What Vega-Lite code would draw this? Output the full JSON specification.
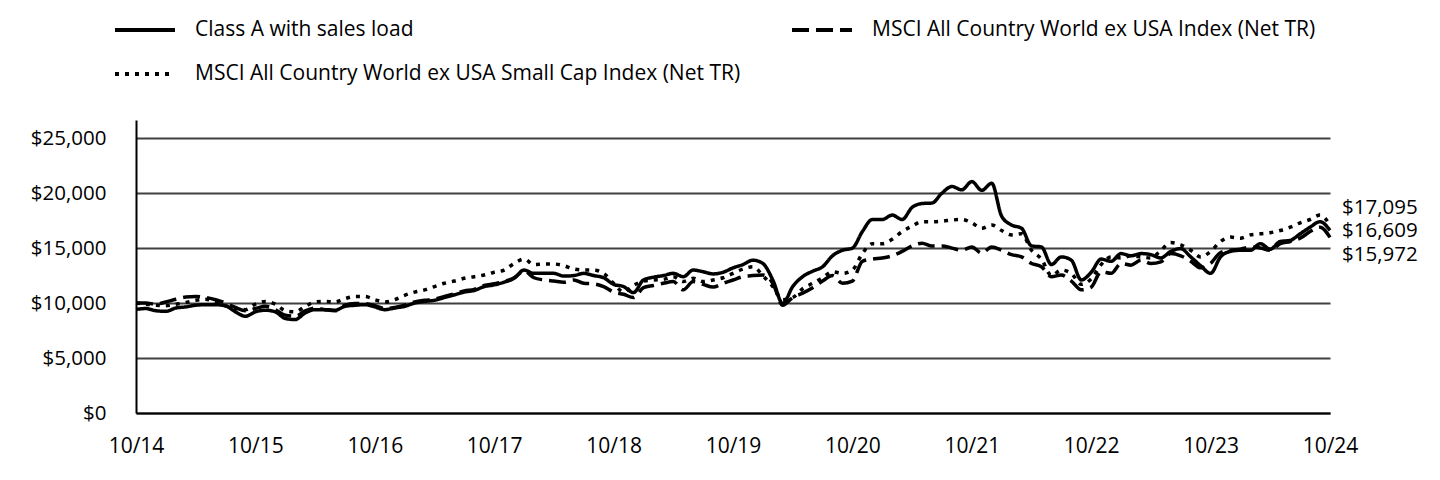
{
  "$schema": "https://vega.github.io/schema/vega-lite/v6.json",
  "width": 1194,
  "height": 293,
  "autosize": {"type": "none"},
  "padding": {"left": 136, "top": 120, "right": 110, "bottom": 67},
  "background": "white",
  "config": {"view": {"stroke": null}, "font": "Open Sans"},
  "data": {"values": [
    {"m":0,"A":9425,"B":10000,"C":10000},
    {"m":1,"A":9500,"B":10000,"C":9900},
    {"m":2,"A":9300,"B":9900,"C":9800},
    {"m":3,"A":9250,"B":10100,"C":9750},
    {"m":4,"A":9550,"B":10350,"C":9900},
    {"m":5,"A":9650,"B":10550,"C":10050},
    {"m":6,"A":9800,"B":10600,"C":10250},
    {"m":7,"A":9850,"B":10500,"C":10350},
    {"m":8,"A":9850,"B":10300,"C":10100},
    {"m":9,"A":9750,"B":10000,"C":9750},
    {"m":10,"A":9200,"B":9600,"C":9500},
    {"m":11,"A":8800,"B":9300,"C":9400},
    {"m":12,"A":9200,"B":9500,"C":9900},
    {"m":13,"A":9350,"B":9700,"C":10150},
    {"m":14,"A":9200,"B":9400,"C":9900},
    {"m":15,"A":8600,"B":8900,"C":9300},
    {"m":16,"A":8500,"B":8800,"C":9200},
    {"m":17,"A":9100,"B":9300,"C":9700},
    {"m":18,"A":9400,"B":9550,"C":10100},
    {"m":19,"A":9400,"B":9400,"C":10150},
    {"m":20,"A":9350,"B":9300,"C":10100},
    {"m":21,"A":9700,"B":9800,"C":10400},
    {"m":22,"A":9800,"B":9950,"C":10600},
    {"m":23,"A":9850,"B":9950,"C":10600},
    {"m":24,"A":9650,"B":9750,"C":10300},
    {"m":25,"A":9400,"B":9500,"C":10100},
    {"m":26,"A":9550,"B":9600,"C":10300},
    {"m":27,"A":9700,"B":9800,"C":10700},
    {"m":28,"A":10000,"B":10100,"C":11000},
    {"m":29,"A":10150,"B":10250,"C":11200},
    {"m":30,"A":10250,"B":10350,"C":11500},
    {"m":31,"A":10500,"B":10600,"C":11800},
    {"m":32,"A":10750,"B":10850,"C":12000},
    {"m":33,"A":11000,"B":11100,"C":12250},
    {"m":34,"A":11150,"B":11250,"C":12400},
    {"m":35,"A":11500,"B":11600,"C":12550},
    {"m":36,"A":11650,"B":11750,"C":12800},
    {"m":37,"A":11900,"B":11950,"C":13000},
    {"m":38,"A":12250,"B":12300,"C":13600},
    {"m":39,"A":13000,"B":12900,"C":14000},
    {"m":40,"A":12700,"B":12300,"C":13500},
    {"m":41,"A":12700,"B":12100,"C":13550},
    {"m":42,"A":12700,"B":12000,"C":13550},
    {"m":43,"A":12450,"B":11900,"C":13400},
    {"m":44,"A":12500,"B":12100,"C":13100},
    {"m":45,"A":12700,"B":11800,"C":13000},
    {"m":46,"A":12500,"B":11750,"C":13000},
    {"m":47,"A":12300,"B":11500,"C":12700},
    {"m":48,"A":11700,"B":11000,"C":11800},
    {"m":49,"A":11500,"B":10800,"C":11000},
    {"m":50,"A":10950,"B":10500,"C":11600},
    {"m":51,"A":12100,"B":11400,"C":12000},
    {"m":52,"A":12350,"B":11600,"C":12100},
    {"m":53,"A":12500,"B":11800,"C":12150},
    {"m":54,"A":12700,"B":11950,"C":12400},
    {"m":55,"A":12400,"B":11200,"C":11950},
    {"m":56,"A":13000,"B":11950,"C":12250},
    {"m":57,"A":12850,"B":11700,"C":11950},
    {"m":58,"A":12650,"B":11450,"C":12100},
    {"m":59,"A":12800,"B":11800,"C":12300},
    {"m":60,"A":13200,"B":12100,"C":12700},
    {"m":61,"A":13500,"B":12400,"C":13100},
    {"m":62,"A":13900,"B":12500,"C":13300},
    {"m":63,"A":13600,"B":12550,"C":12500},
    {"m":64,"A":12100,"B":11800,"C":11500},
    {"m":65,"A":9950,"B":9800,"C":10300},
    {"m":66,"A":11500,"B":10500,"C":10500},
    {"m":67,"A":12400,"B":10900,"C":11300},
    {"m":68,"A":12900,"B":11400,"C":11800},
    {"m":69,"A":13300,"B":12000,"C":12300},
    {"m":70,"A":14300,"B":12500,"C":12850},
    {"m":71,"A":14800,"B":11800,"C":12700},
    {"m":72,"A":15000,"B":12000,"C":13000},
    {"m":73,"A":16500,"B":13800,"C":14500},
    {"m":74,"A":17600,"B":14000,"C":15400},
    {"m":75,"A":17600,"B":14100,"C":15400},
    {"m":76,"A":18000,"B":14300,"C":15800},
    {"m":77,"A":17600,"B":14700,"C":16500},
    {"m":78,"A":18700,"B":15200,"C":17000},
    {"m":79,"A":19050,"B":15450,"C":17400},
    {"m":80,"A":19100,"B":15200,"C":17400},
    {"m":81,"A":20000,"B":15200,"C":17450},
    {"m":82,"A":20600,"B":15000,"C":17550},
    {"m":83,"A":20300,"B":14800,"C":17600},
    {"m":84,"A":21050,"B":15100,"C":17300},
    {"m":85,"A":20250,"B":14550,"C":16800},
    {"m":86,"A":20900,"B":15100,"C":17100},
    {"m":87,"A":17900,"B":14800,"C":16600},
    {"m":88,"A":17100,"B":14400,"C":16200},
    {"m":89,"A":16800,"B":14200,"C":16300},
    {"m":90,"A":15200,"B":13600,"C":14800},
    {"m":91,"A":15100,"B":13300,"C":14000},
    {"m":92,"A":13500,"B":12400,"C":12500},
    {"m":93,"A":14200,"B":12550,"C":13000},
    {"m":94,"A":13900,"B":12000,"C":12700},
    {"m":95,"A":12100,"B":11200,"C":11700},
    {"m":96,"A":12800,"B":11450,"C":12200},
    {"m":97,"A":14000,"B":12850,"C":13500},
    {"m":98,"A":13800,"B":12700,"C":14200},
    {"m":99,"A":14500,"B":13600,"C":14100},
    {"m":100,"A":14300,"B":13450,"C":14300},
    {"m":101,"A":14500,"B":13900,"C":14200},
    {"m":102,"A":14400,"B":13600,"C":14100},
    {"m":103,"A":14100,"B":13750,"C":14800},
    {"m":104,"A":14700,"B":14500,"C":15500},
    {"m":105,"A":14950,"B":14300,"C":15300},
    {"m":106,"A":14200,"B":13800,"C":14800},
    {"m":107,"A":13400,"B":13200,"C":14200},
    {"m":108,"A":12700,"B":13600,"C":14700},
    {"m":109,"A":14200,"B":14600,"C":15600},
    {"m":110,"A":14700,"B":14800,"C":16000},
    {"m":111,"A":14800,"B":14900,"C":15900},
    {"m":112,"A":14800,"B":15100,"C":16200},
    {"m":113,"A":15400,"B":15000,"C":16300},
    {"m":114,"A":14900,"B":14800,"C":16400},
    {"m":115,"A":15600,"B":15400,"C":16600},
    {"m":116,"A":15700,"B":15600,"C":16900},
    {"m":117,"A":16300,"B":15900,"C":17300},
    {"m":118,"A":16900,"B":16500,"C":17600},
    {"m":119,"A":17400,"B":16900,"C":18000},
    {"m":120,"A":16609,"B":15972,"C":17095}
  ]},
  "transform": [{"fold": ["A", "B", "C"], "as": ["series", "value"]}],
  "encoding": {
    "x": {
      "field": "m", "type": "quantitative",
      "scale": {"domain": [0, 120], "nice": false, "zero": false},
      "axis": {
        "title": null, "values": [0,12,24,36,48,60,72,84,96,108,120],
        "labelExpr": "'10/' + (14 + datum.value / 12)",
        "labelFlush": false,
        "grid": false, "ticks": false, "domainColor": "black", "domainWidth": 2,
        "labelFontSize": 21, "labelColor": "black", "labelPadding": 22, "labelFont": "Open Sans"
      }
    },
    "y": {
      "field": "value", "type": "quantitative",
      "scale": {"domain": [0, 26650], "nice": false},
      "axis": {
        "title": null, "values": [0,5000,10000,15000,20000,25000], "format": "$,.0f",
        "grid": true, "gridColor": "#404040", "gridWidth": 2, "ticks": false,
        "domainColor": "black", "domainWidth": 2,
        "labelFontSize": 20.5, "labelColor": "black", "labelPadding": 30, "labelFont": "Open Sans"
      }
    }
  },
  "layer": [
    {
      "mark": {"type": "line", "color": "black", "strokeWidth": 3.5, "interpolate": "monotone"},
      "encoding": {
        "strokeDash": {
          "field": "series", "type": "nominal",
          "scale": {"domain": ["A", "B", "C"], "range": [[1, 0], [17, 7], [4, 6]]},
          "legend": {
            "title": null, "orient": "none", "legendX": -23, "legendY": -122,
            "direction": "horizontal",
            "columns": 2, "columnPadding": 43, "rowPadding": 2,
            "symbolType": "stroke", "symbolSize": 3600, "symbolStrokeWidth": 4, "symbolStrokeColor": "black",
            "labelFontSize": 21, "labelColor": "black", "labelOffset": 18, "labelLimit": 1000, "labelFont": "Open Sans",
            "labelExpr": "datum.label == 'A' ? 'Class A with sales load' : datum.label == 'B' ? 'MSCI All Country World ex USA Index (Net TR)' : 'MSCI All Country World ex USA Small Cap Index (Net TR)'"
          }
        }
      }
    },
    {
      "transform": [{"filter": "datum.m == 120 && datum.series == 'C'"}],
      "mark": {"type": "text", "align": "left", "baseline": "middle", "dx": 12, "dy": -17, "fontSize": 20.5, "color": "black", "font": "Open Sans"},
      "encoding": {"text": {"field": "value", "type": "quantitative", "format": "$,.0f"}}
    },
    {
      "transform": [{"filter": "datum.m == 120 && datum.series == 'A'"}],
      "mark": {"type": "text", "align": "left", "baseline": "middle", "dx": 12, "dy": 0.5, "fontSize": 20.5, "color": "black", "font": "Open Sans"},
      "encoding": {"text": {"field": "value", "type": "quantitative", "format": "$,.0f"}}
    },
    {
      "transform": [{"filter": "datum.m == 120 && datum.series == 'B'"}],
      "mark": {"type": "text", "align": "left", "baseline": "middle", "dx": 12, "dy": 17.5, "fontSize": 20.5, "color": "black", "font": "Open Sans"},
      "encoding": {"text": {"field": "value", "type": "quantitative", "format": "$,.0f"}}
    }
  ]
}
